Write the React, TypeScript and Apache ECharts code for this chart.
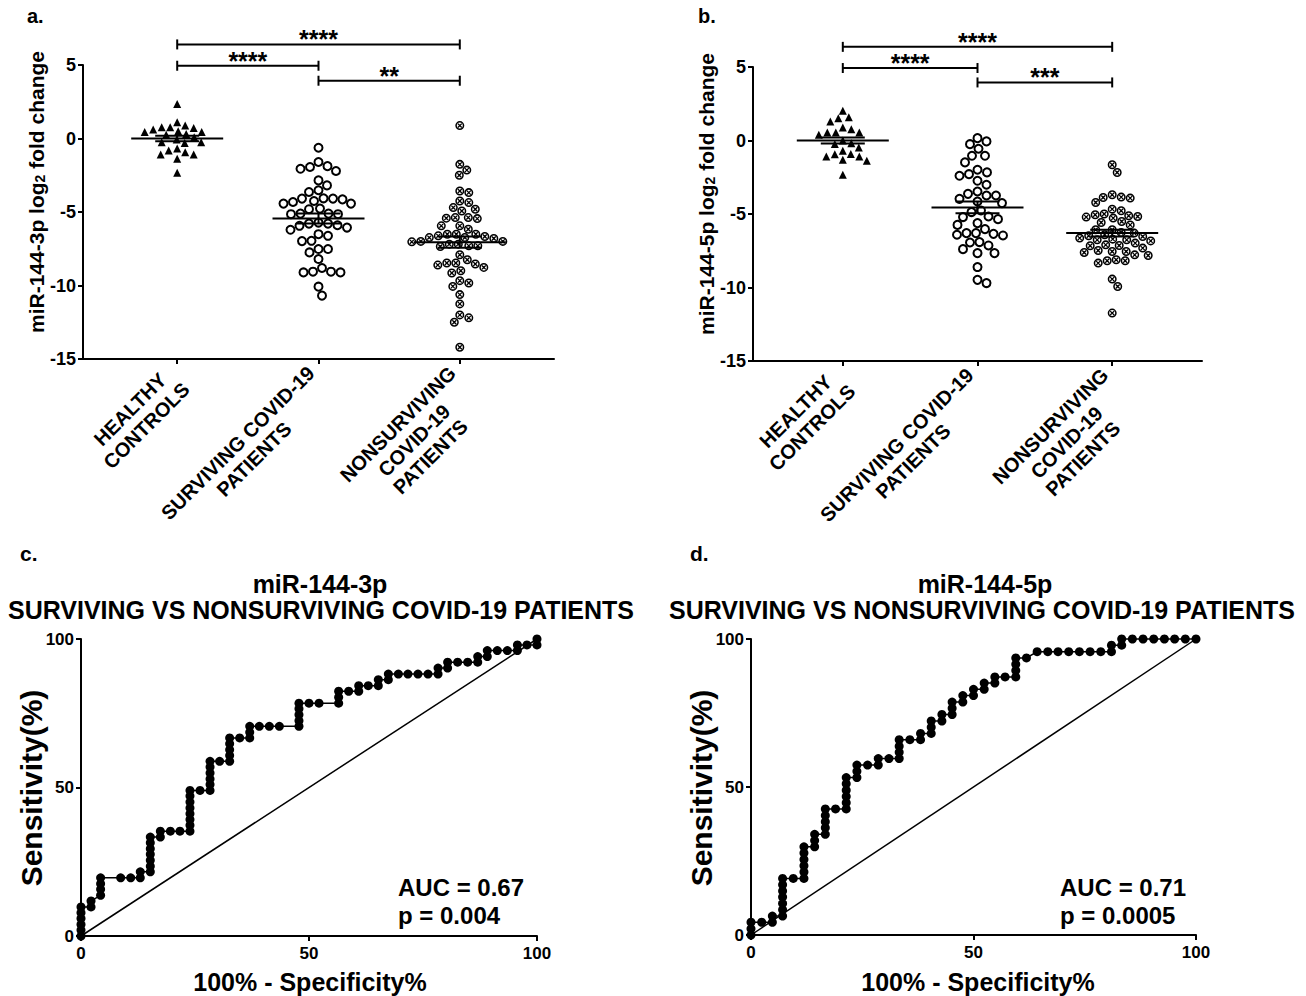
import React, { useEffect, useRef } from "react";
import * as echarts from "echarts";

const FONT = "'Liberation Sans', Arial, Helvetica, sans-serif";

// ---------- categories ----------
const groupLabels = ["HEALTHY\nCONTROLS", "SURVIVING COVID-19\nPATIENTS", "NONSURVIVING\nCOVID-19\nPATIENTS"];
const groupPositions = [1, 2, 3];

// ---------- panel a: miR-144-3p log2 fold change ----------
const aHealthy = [2.35, 1.1, 0.88, 0.77, 0.77, 0.72, 0.61, 0.5, 0.45, 0.45, 0.3, 0.25, 0.09, -0.07, -0.25, -0.25, -0.3, -0.68, -0.81, -0.93, -1.08, -1.08, -1.38, -2.33];
const aSurviving = [-0.63, -1.6, -1.88, -1.94, -2.06, -2.21, -2.85, -3.19, -3.52, -3.64, -4.07, -4.09, -4.09, -4.14, -4.25, -4.32, -4.43, -4.43, -4.77, -4.81, -5.11, -5.11, -5.15, -5.15, -5.72, -5.79, -5.79, -5.9, -5.94, -6.06, -6.21, -6.51, -6.62, -6.96, -6.98, -7.52, -7.52, -7.75, -8.2, -8.81, -9.06, -9.06, -9.11, -9.11, -10.08, -10.69];
const aNonsurviving = [0.88, -1.76, -2.15, -2.5, -3.57, -3.68, -4.25, -4.36, -4.7, -4.81, -4.93, -5.38, -5.38, -5.42, -5.45, -5.94, -5.94, -6.17, -6.51, -6.51, -6.51, -6.62, -6.67, -6.74, -6.74, -6.8, -7.0, -7.0, -7.03, -7.19, -7.19, -7.3, -7.3, -7.35, -7.91, -8.25, -8.47, -8.47, -8.54, -8.61, -8.77, -9.0, -9.15, -9.67, -9.83, -10.06, -10.62, -11.25, -12.0, -12.2, -12.5, -14.2];
const aMeans = [0.0, -5.45, -7.05];
const aSems = [0.18, 0.34, 0.38];
const aBrackets = [[1, 3, 6.4], [1, 2, 4.95], [2, 3, 3.93]];
const aStars = ["****", "****", "**"];

// ---------- panel b: miR-144-5p log2 fold change ----------
const bHealthy = [2.02, 1.59, 1.52, 1.29, 0.88, 0.77, 0.55, 0.55, 0.55, 0.39, 0.0, -0.18, -0.23, -0.47, -0.7, -0.91, -0.93, -1.09, -1.09, -1.31, -1.38, -2.33];
const bSurviving = [0.16, -0.06, -0.25, -0.56, -1.04, -1.04, -1.49, -1.99, -2.17, -2.29, -2.4, -2.74, -3.01, -3.47, -3.63, -3.74, -3.74, -3.97, -4.15, -4.26, -4.76, -4.87, -5.17, -5.21, -5.35, -5.62, -5.74, -6.03, -6.3, -6.3, -6.35, -6.41, -6.46, -6.91, -6.94, -7.14, -7.39, -7.66, -7.66, -8.61, -9.48, -9.7];
const bNonsurviving = [-1.65, -2.18, -3.69, -3.85, -3.88, -3.92, -4.22, -4.67, -4.78, -5.0, -5.05, -5.12, -5.17, -5.21, -5.28, -5.51, -5.58, -5.74, -6.07, -6.07, -6.26, -6.3, -6.41, -6.48, -6.53, -6.64, -6.71, -6.76, -6.76, -6.83, -6.98, -7.1, -7.14, -7.16, -7.32, -7.48, -7.55, -7.55, -7.62, -7.78, -7.82, -8.11, -8.18, -8.18, -8.34, -9.43, -9.93, -11.74];
const bMeans = [0.0, -4.55, -6.3];
const bSems = [0.2, 0.4, 0.23];
const bBrackets = [[1, 3, 6.37], [1, 2, 4.93], [2, 3, 3.95]];
const bStars = ["****", "****", "***"];

const foldTicks = { min: -15, max: 5, interval: 5 };

// ---------- panel c: ROC miR-144-3p (100% - specificity, sensitivity) ----------
const rocC: number[][] = [
  [0, 0], [0, 2.0], [0, 3.9], [0, 5.9], [0, 7.8], [0, 9.8],
  [2.2, 9.8], [2.2, 11.8],
  [4.3, 13.7], [4.3, 15.7], [4.3, 17.6], [4.3, 19.6],
  [8.7, 19.6], [10.9, 19.6],
  [13.0, 19.6], [13.0, 21.6],
  [15.2, 21.6], [15.2, 23.5], [15.2, 25.5], [15.2, 27.5], [15.2, 29.4], [15.2, 31.4], [15.2, 33.3],
  [17.4, 33.3], [17.4, 35.3],
  [19.6, 35.3], [21.7, 35.3],
  [23.9, 35.3], [23.9, 37.3], [23.9, 39.2], [23.9, 41.2], [23.9, 43.1], [23.9, 45.1], [23.9, 47.1], [23.9, 49.0],
  [26.1, 49.0],
  [28.3, 49.0], [28.3, 51.0], [28.3, 52.9], [28.3, 54.9], [28.3, 56.9], [28.3, 58.8],
  [30.4, 58.8],
  [32.6, 58.8], [32.6, 60.8], [32.6, 62.7], [32.6, 64.7], [32.6, 66.7],
  [34.8, 66.7],
  [37.0, 66.7], [37.0, 68.6], [37.0, 70.6],
  [39.1, 70.6], [41.3, 70.6], [43.5, 70.6],
  [47.8, 70.6], [47.8, 72.5], [47.8, 74.5], [47.8, 76.5], [47.8, 78.4],
  [50.0, 78.4], [52.2, 78.4],
  [56.5, 78.4], [56.5, 80.4], [56.5, 82.4],
  [58.7, 82.4],
  [60.9, 82.4], [60.9, 84.3],
  [63.0, 84.3],
  [65.2, 84.3], [65.2, 86.3],
  [67.4, 86.3], [67.4, 88.2],
  [69.6, 88.2], [71.7, 88.2], [73.9, 88.2], [76.1, 88.2],
  [78.3, 88.2], [78.3, 90.2],
  [80.4, 90.2], [80.4, 92.2],
  [82.6, 92.2], [84.8, 92.2],
  [87.0, 92.2], [87.0, 94.1],
  [89.1, 94.1], [89.1, 96.1],
  [91.3, 96.1], [93.5, 96.1],
  [95.7, 96.1], [95.7, 98.0],
  [97.8, 98.0],
  [100, 98.0], [100, 100],
];

// ---------- panel d: ROC miR-144-5p ----------
const rocD: number[][] = [
  [0, 0], [0, 2.1], [0, 4.3],
  [2.4, 4.3],
  [4.8, 4.3], [4.8, 6.4],
  [7.1, 6.4], [7.1, 8.5], [7.1, 10.6], [7.1, 12.8], [7.1, 14.9], [7.1, 17.0], [7.1, 19.1],
  [9.5, 19.1],
  [11.9, 19.1], [11.9, 21.3], [11.9, 23.4], [11.9, 25.5], [11.9, 27.7], [11.9, 29.8],
  [14.3, 29.8], [14.3, 31.9], [14.3, 34.0],
  [16.7, 34.0], [16.7, 36.2], [16.7, 38.3], [16.7, 40.4], [16.7, 42.6],
  [19.0, 42.6],
  [21.4, 42.6], [21.4, 44.7], [21.4, 46.8], [21.4, 48.9], [21.4, 51.1], [21.4, 53.2],
  [23.8, 53.2], [23.8, 55.3], [23.8, 57.4],
  [26.2, 57.4],
  [28.6, 57.4], [28.6, 59.6],
  [31.0, 59.6],
  [33.3, 59.6], [33.3, 61.7], [33.3, 63.8], [33.3, 66.0],
  [35.7, 66.0],
  [38.1, 66.0], [38.1, 68.1],
  [40.5, 68.1], [40.5, 70.2], [40.5, 72.3],
  [42.9, 72.3], [42.9, 74.5],
  [45.2, 74.5], [45.2, 76.6], [45.2, 78.7],
  [47.6, 78.7], [47.6, 80.9],
  [50.0, 80.9], [50.0, 83.0],
  [52.4, 83.0], [52.4, 85.1],
  [54.8, 85.1], [54.8, 87.2],
  [57.1, 87.2],
  [59.5, 87.2], [59.5, 89.4], [59.5, 91.5], [59.5, 93.6],
  [61.9, 93.6],
  [64.3, 95.7], [66.7, 95.7], [69.0, 95.7], [71.4, 95.7], [73.8, 95.7], [76.2, 95.7], [78.6, 95.7],
  [81.0, 95.7], [81.0, 97.9],
  [83.3, 97.9], [83.3, 100],
  [85.7, 100], [88.1, 100], [90.5, 100], [92.9, 100], [95.2, 100], [97.6, 100], [100, 100],
];
const chanceLine = [[0, 0], [100, 100]];
const rocTicks = { min: 0, max: 100, interval: 50 };

const aucC = ["AUC = 0.67", "p = 0.004"];
const aucD = ["AUC = 0.71", "p = 0.0005"];
const titleC = ["miR-144-3p", "SURVIVING VS NONSURVIVING COVID-19 PATIENTS"];
const titleD = ["miR-144-5p", "SURVIVING VS NONSURVIVING COVID-19 PATIENTS"];
const foldTitleA = ["miR-144-3p log", "2", " fold change"];
const foldTitleB = ["miR-144-5p log", "2", " fold change"];

// ---------- layout (pixels) ----------
const GA = { left: 83, top: 65, width: 471, height: 294 };
const GB = { left: 753, top: 67, width: 449, height: 294 };
const GC = { left: 81, top: 639, width: 456, height: 297 };
const GD = { left: 751, top: 639, width: 445, height: 296 };
const XMIN = 1 / 3;
const XMAX = 11 / 3;

// deterministic beeswarm layout: returns x offsets in pixels
function swarm(values: number[], pxPerY: number, diameter: number): number[] {
  const order = values.map((_, i) => i).sort((i, j) => values[j] - values[i]);
  const placed: { x: number; y: number }[] = [];
  const out = new Array(values.length).fill(0);
  for (const i of order) {
    const y = values[i] * pxPerY;
    let best = 0;
    for (let s = 0; s < 800; s++) {
      const cand = s === 0 ? 0 : (s % 2 ? 1 : -1) * Math.ceil(s / 2) * 0.5;
      let ok = true;
      for (const p of placed) {
        const dx = p.x - cand;
        const dy = p.y - y;
        if (dx * dx + dy * dy < diameter * diameter) {
          ok = false;
          break;
        }
      }
      if (ok) {
        best = cand;
        break;
      }
    }
    placed.push({ x: best, y });
    out[i] = best;
  }
  return out;
}

function swarmData(values: number[], center: number, g: { width: number; height: number }, d: number) {
  const pxX = g.width / (XMAX - XMIN);
  const pxY = g.height / (foldTicks.max - foldTicks.min);
  const offs = swarm(values, pxY, d);
  return values.map((v, i) => [center + offs[i] / pxX, v]);
}

const crossCircle =
  "path://M10,0A10,10,0,1,1,10,20A10,10,0,1,1,10,0ZM10,3.4A6.6,6.6,0,1,0,10,16.6A6.6,6.6,0,1,0,10,3.4ZM4.6,6.6L6.6,4.6L15.4,13.4L13.4,15.4ZM13.4,4.6L15.4,6.6L6.6,15.4L4.6,13.4Z";

const black = "#000";

function catAxis(gridIndex: number) {
  return {
    gridIndex,
    type: "value",
    min: XMIN,
    max: XMAX,
    axisLine: { show: true, onZero: false, lineStyle: { color: black, width: 2 } },
    axisTick: { show: true, customValues: groupPositions, length: 5, lineStyle: { color: black, width: 2 } },
    axisLabel: {
      customValues: groupPositions,
      rotate: 45,
      margin: -13,
      padding: [0, 22, 0, 0],
      align: "right",
      verticalAlign: "top",
      color: black,
      formatter: (v: number) =>
        groupLabels[Math.round(v) - 1]
          .split("\n")
          .map((s) => `{c|${s}}`)
          .join("\n"),
      rich: {
        c: { align: "center", fontSize: 20, fontWeight: "bold", fontFamily: FONT, color: black, lineHeight: 23 },
      },
    },
    splitLine: { show: false },
  };
}

function foldAxis(gridIndex: number) {
  return {
    gridIndex,
    type: "value",
    min: foldTicks.min,
    max: foldTicks.max,
    interval: foldTicks.interval,
    axisLine: { show: true, onZero: false, lineStyle: { color: black, width: 2 } },
    axisTick: { show: true, length: 5, lineStyle: { color: black, width: 2 } },
    axisLabel: { color: black, fontSize: 18, fontWeight: "bold", fontFamily: FONT, margin: 7 },
    splitLine: { show: false },
  };
}

function rocAxis(gridIndex: number, isY: boolean) {
  return {
    gridIndex,
    type: "value",
    min: rocTicks.min,
    max: rocTicks.max,
    interval: rocTicks.interval,
    axisLine: { show: true, onZero: false, lineStyle: { color: black, width: 2 } },
    axisTick: { show: true, length: 5, lineStyle: { color: black, width: 2 } },
    axisLabel: { color: black, fontSize: 17, fontWeight: "bold", fontFamily: FONT, margin: isY ? 7 : 9 },
    splitLine: { show: false },
  };
}

function meanSeries(idx: number, means: number[], sems: number[]) {
  return {
    type: "custom",
    xAxisIndex: idx,
    yAxisIndex: idx,
    z: 5,
    clip: false,
    data: means.map((m, i) => [groupPositions[i], m, sems[i]]),
    renderItem: (_p: any, api: any) => {
      const x = api.value(0);
      const m = api.value(1);
      const s = api.value(2);
      const c = api.coord([x, m]);
      const hi = api.coord([x, m + s]);
      const lo = api.coord([x, m - s]);
      const style = { stroke: black, lineWidth: 2 };
      return {
        type: "group",
        children: [
          { type: "line", shape: { x1: c[0] - 46, y1: c[1], x2: c[0] + 46, y2: c[1] }, style },
          { type: "line", shape: { x1: c[0] - 22, y1: hi[1], x2: c[0] + 22, y2: hi[1] }, style },
          { type: "line", shape: { x1: c[0] - 22, y1: lo[1], x2: c[0] + 22, y2: lo[1] }, style },
          { type: "line", shape: { x1: c[0], y1: hi[1], x2: c[0], y2: lo[1] }, style },
        ],
      };
    },
  };
}

function bracketSeries(idx: number, brackets: number[][], stars: string[]) {
  return {
    type: "custom",
    xAxisIndex: idx,
    yAxisIndex: idx,
    clip: false,
    z: 5,
    data: brackets,
    renderItem: (p: any, api: any) => {
      const p1 = api.coord([api.value(0), api.value(2)]);
      const p2 = api.coord([api.value(1), api.value(2)]);
      const style = { stroke: black, lineWidth: 2 };
      return {
        type: "group",
        children: [
          { type: "line", shape: { x1: p1[0], y1: p1[1], x2: p2[0], y2: p2[1] }, style },
          { type: "line", shape: { x1: p1[0], y1: p1[1] - 5, x2: p1[0], y2: p1[1] + 5 }, style },
          { type: "line", shape: { x1: p2[0], y1: p2[1] - 5, x2: p2[0], y2: p2[1] + 5 }, style },
          {
            type: "text",
            style: {
              x: (p1[0] + p2[0]) / 2,
              y: p1[1] - 5,
              text: stars[p.dataIndex],
              fill: black,
              fontSize: 25,
              fontWeight: "bold",
              fontFamily: FONT,
              align: "center",
              verticalAlign: "middle",
            },
          },
        ],
      };
    },
  };
}

function scatter(idx: number, data: number[][], kind: "tri" | "open" | "cross") {
  const base: any = { type: "scatter", xAxisIndex: idx, yAxisIndex: idx, data, z: 3 };
  if (kind === "tri") return { ...base, symbol: "triangle", symbolSize: 8, itemStyle: { color: black, opacity: 1 } };
  if (kind === "open")
    return {
      ...base,
      symbol: "circle",
      symbolSize: 8,
      itemStyle: { color: "#fff", borderColor: black, borderWidth: 2, opacity: 1 },
    };
  return { ...base, symbol: crossCircle, symbolSize: 9, itemStyle: { color: black, opacity: 1 } };
}

function rocSeries(idx: number, data: number[][]) {
  return [
    {
      type: "line",
      xAxisIndex: idx,
      yAxisIndex: idx,
      data: chanceLine,
      symbol: "none",
      clip: false,
      lineStyle: { color: black, width: 1.5 },
      z: 2,
    },
    {
      type: "line",
      xAxisIndex: idx,
      yAxisIndex: idx,
      data,
      symbol: "circle",
      symbolSize: 9,
      showSymbol: true,
      clip: false,
      lineStyle: { color: black, width: 1.5 },
      itemStyle: { color: black, opacity: 1 },
      z: 3,
    },
  ];
}

function txt(text: string, x: number, y: number, size: number, align = "left", rotation = 0) {
  return {
    type: "text",
    x,
    y,
    rotation,
    style: {
      text,
      fill: black,
      fontSize: size,
      fontWeight: "bold",
      fontFamily: FONT,
      align,
      verticalAlign: "middle",
    },
  };
}

function subTitle(parts: string[], x: number, y: number) {
  return {
    type: "text",
    x,
    y,
    rotation: Math.PI / 2,
    style: {
      text: `{n|${parts[0]}}{s|${parts[1]}}{n|${parts[2]}}`,
      fill: black,
      align: "center",
      verticalAlign: "middle",
      rich: {
        n: { fontSize: 21, fontWeight: "bold", fontFamily: FONT, fill: black },
        s: { fontSize: 14, fontWeight: "bold", fontFamily: FONT, fill: black, verticalAlign: "bottom" },
      },
    },
  };
}

export default function App() {
  const ref = useRef<HTMLDivElement>(null);

  useEffect(() => {
    if (!ref.current) return;
    const chart = echarts.init(ref.current, null, { renderer: "svg" });

    const option: any = {
      animation: false,
      backgroundColor: "#fff",
      grid: [GA, GB, GC, GD].map((g) => ({ ...g, containLabel: false, outerBoundsMode: "none" })),
      xAxis: [catAxis(0), catAxis(1), rocAxis(2, false), rocAxis(3, false)],
      yAxis: [foldAxis(0), foldAxis(1), rocAxis(2, true), rocAxis(3, true)],
      series: [
        scatter(0, swarmData(aHealthy, 1, GA, 8.5), "tri"),
        scatter(0, swarmData(aSurviving, 2, GA, 9.5), "open"),
        scatter(0, swarmData(aNonsurviving, 3, GA, 9), "cross"),
        meanSeries(0, aMeans, aSems),
        bracketSeries(0, aBrackets, aStars),
        scatter(1, swarmData(bHealthy, 1, GB, 8.5), "tri"),
        scatter(1, swarmData(bSurviving, 2, GB, 9.5), "open"),
        scatter(1, swarmData(bNonsurviving, 3, GB, 9), "cross"),
        meanSeries(1, bMeans, bSems),
        bracketSeries(1, bBrackets, bStars),
        ...rocSeries(2, rocC),
        ...rocSeries(3, rocD),
      ],
      graphic: [
        txt("a.", 27, 16, 20),
        txt("b.", 698, 16, 20),
        txt("c.", 20, 553, 21),
        txt("d.", 690, 553, 21),
        subTitle(foldTitleA, 36, 192),
        subTitle(foldTitleB, 706, 194),
        txt(titleC[0], 320, 584, 25, "center"),
        txt(titleC[1], 321, 610, 25, "center"),
        txt(titleD[0], 985, 584, 25, "center"),
        txt(titleD[1], 982, 610, 25, "center"),
        txt("Sensitivity(%)", 31, 788, 30, "center", Math.PI / 2),
        txt("Sensitivity(%)", 701, 788, 30, "center", Math.PI / 2),
        txt("100% - Specificity%", 310, 982, 25, "center"),
        txt("100% - Specificity%", 978, 982, 25, "center"),
        txt(aucC[0], 398, 887, 24),
        txt(aucC[1], 398, 915, 24),
        txt(aucD[0], 1060, 887, 24),
        txt(aucD[1], 1060, 915, 24),
      ],
    };

    chart.setOption(option);
    return () => chart.dispose();
  }, []);

  return (
    <div
      ref={ref}
      style={{ position: "absolute", left: 0, top: 0, width: 1306, height: 996, background: "#fff" }}
    />
  );
}
